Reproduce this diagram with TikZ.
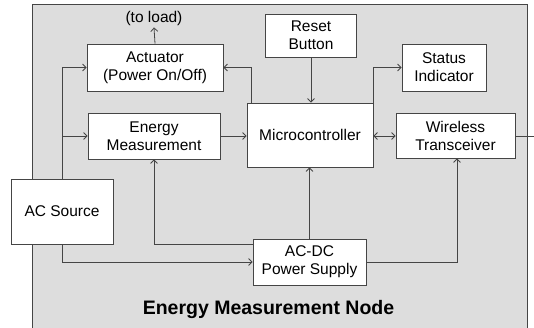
\documentclass[tikz,border=0pt]{standalone}
\usepackage{fontspec}
\setmainfont{Liberation Sans}
\usepackage{tikz}
\usetikzlibrary{calc,positioning,arrows.meta}
\definecolor{nodeBack}{HTML}{DDDDDD}
\definecolor{nodeLine}{HTML}{454545}

\begin{document}
\begin{tikzpicture}[
  x=1pt, y=-1pt,
  blk/.style={draw=nodeLine, line width=0.8pt, fill=white, align=center, inner sep=0pt,
              font=\fontsize{15.5}{18}\selectfont},
  fl/.style={-{Straight Barb[length=3.5pt,width=7pt]}, draw=nodeLine, line width=0.8pt},
  fb/.style={{Straight Barb[length=3.5pt,width=7pt]}-{Straight Barb[length=3.5pt,width=7pt]},
             draw=nodeLine, line width=0.8pt},
  pl/.style={draw=nodeLine, line width=0.8pt}
]
\clip (0,0) rectangle (534,328);
% ---- enclosure
\draw[pl, fill=nodeBack] (32,4) rectangle (527,345);
\node[font=\fontsize{19.5}{22}\selectfont\bfseries] (title) at (268.5,309) {Energy Measurement Node};

% ---- blocks
\node[blk, minimum width=136pt, minimum height=47pt] (act) at (155,67.5) {Actuator\\(Power On/Off)};
\node[blk, minimum width=132pt, minimum height=46pt] (em)  at (154,136) {Energy\\Measurement};
\node[blk, minimum width=126pt, minimum height=64pt] (mc)  at (310,135) {Microcontroller};
\node[blk, minimum width=91pt,  minimum height=43pt] (rst) at (311,35.5) {Reset\\Button};
\node[blk, minimum width=84pt,  minimum height=47pt] (st)  at (444,67.5) {Status\\Indicator};
\node[blk, minimum width=119pt, minimum height=45pt] (wt)  at (455.5,135.5) {Wireless\\Transceiver};
\node[blk, minimum width=102pt, minimum height=65pt] (ac)  at (62,211.5) {AC Source};
\node[blk, minimum width=113pt, minimum height=46pt] (ps)  at (309.5,262) {AC-DC\\Power Supply};
\node[font=\fontsize{15.5}{18}\selectfont, inner sep=2pt] (load) at (154,18) {(to load)};
\coordinate (out) at (534,136);

% ---- mains side
\draw[fl] (act.north) -- (load.south);
\draw[fl] (ac.north) |- (act.west);
\draw[fl] (ac.north) |- (em.west);
\draw[fl] (ac.south) |- (ps.west);
\draw[fl] (em.east) -- (em.east -| mc.west);

% ---- controller links
\draw[fl] ($(mc.north west)+(5,0)$) |- (act.east);
\draw[fl] (mc.north east) |- (st.west);
\draw[fl] (rst.south) -- (rst.south |- mc.north);
\draw[fb] (wt.west |- em.east) -- (mc.east |- em.east);
\draw[pl] (wt.east |- em.east) -- (out);

% ---- supply rails
\draw[fl] (ps.north) -- (ps.north |- mc.south);
\draw[fl] ($(ps.north west)+(0,6)$) -| (em.south);
\draw[fl] (ps.east) -| ($(wt.south)+(1.5,0)$);
\end{tikzpicture}
\end{document}
